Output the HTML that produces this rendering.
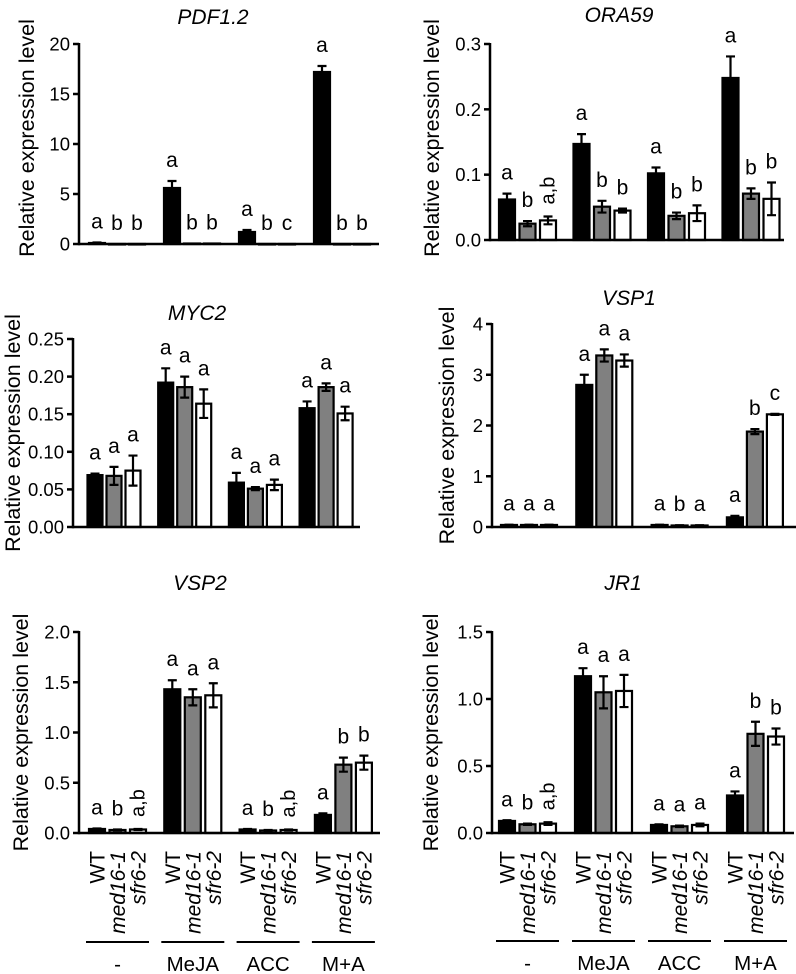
<!DOCTYPE html>
<html><head><meta charset="utf-8"><style>
html,body{margin:0;padding:0;background:#fff}
svg{display:block}
text{font-family:"Liberation Sans",Arial,sans-serif;fill:#000}
</style></head><body>
<svg id="fig" width="796" height="974" viewBox="0 0 796 974" xmlns="http://www.w3.org/2000/svg"></svg>
<script>
const groups = ["-", "MeJA", "ACC", "M+A"];
const genotypes = ["WT", "med16-1", "sfr6-2"];

const pdfValues = [[0.1,0,0],[5.6,0.05,0.05],[1.2,0,0],[17.2,0,0]];
const pdfErrors = [[0.05,0,0],[0.7,0,0],[0.2,0,0],[0.6,0,0]];
const pdfLetters = [["a","b","b"],["a","b","b"],["a","b","c"],["a","b","b"]];
const pdfTicks = [0,5,10,15,20];

const oraValues = [[0.062,0.025,0.030],[0.147,0.051,0.045],[0.102,0.037,0.041],[0.248,0.071,0.063]];
const oraErrors = [[0.009,0.004,0.006],[0.015,0.009,0.003],[0.009,0.005,0.012],[0.033,0.008,0.025]];
const oraLetters = [["a","b","a,b"],["a","b","b"],["a","b","b"],["a","b","b"]];
const oraTicks = [0,0.1,0.2,0.3];

const mycValues = [[0.069,0.068,0.075],[0.192,0.186,0.164],[0.059,0.051,0.056],[0.158,0.186,0.151]];
const mycErrors = [[0.002,0.012,0.020],[0.019,0.014,0.019],[0.013,0.002,0.007],[0.009,0.005,0.009]];
const mycLetters = [["a","a","a"],["a","a","a"],["a","a","a"],["a","a","a"]];
const mycTicks = [0,0.05,0.10,0.15,0.20,0.25];

const vsp1Values = [[0.04,0.04,0.04],[2.8,3.38,3.28],[0.04,0.03,0.03],[0.19,1.88,2.22]];
const vsp1Errors = [[0.005,0.005,0.005],[0.2,0.12,0.12],[0.005,0.005,0.005],[0.03,0.05,0.01]];
const vsp1Letters = [["a","a","a"],["a","a","a"],["a","b","a"],["a","b","c"]];
const vsp1Ticks = [0,1,2,3,4];

const vsp2Values = [[0.04,0.03,0.035],[1.43,1.35,1.37],[0.035,0.025,0.03],[0.18,0.68,0.70]];
const vsp2Errors = [[0.005,0.005,0.005],[0.09,0.08,0.12],[0.005,0.005,0.005],[0.015,0.07,0.07]];
const vsp2Letters = [["a","b","a,b"],["a","a","a"],["a","b","a,b"],["a","b","b"]];
const vsp2Ticks = [0,0.5,1.0,1.5,2.0];

const jrValues = [[0.09,0.065,0.07],[1.17,1.05,1.06],[0.06,0.05,0.06],[0.28,0.74,0.72]];
const jrErrors = [[0.005,0.005,0.01],[0.06,0.12,0.12],[0.005,0.005,0.01],[0.03,0.09,0.06]];
const jrLetters = [["a","b","a,b"],["a","a","a"],["a","a","a"],["a","b","b"]];
const jrTicks = [0,0.5,1.0,1.5];

const NS = "http://www.w3.org/2000/svg";
const svg = document.getElementById("fig");
const fills = ["#000", "#808080", "#fff"];

function mk(tag, attrs, parent, txt){
  const e = document.createElementNS(NS, tag);
  for (const k in attrs) e.setAttribute(k, attrs[k]);
  if (txt !== undefined) e.textContent = txt;
  parent.appendChild(e);
  return e;
}

function panel(o){
  const g = mk("g", {}, svg);
  
  
  const max = o.ticks[o.ticks.length-1];
  const y = v => o.y0 - (v/max)*(o.y0 - o.yTop);
  const xc = (gi, bi) => o.x1 + gi*o.gStep + bi*o.bStep;
  const t = mk("text", {x:o.titleX, y:o.titleY, "text-anchor":"middle", "font-size":21, "font-style":"italic"}, g, o.title);
  
  
  const yt = mk("text", {x:0, y:0, "text-anchor":"middle", "font-size":21.5, transform:`translate(${o.yTitleX},${(o.y0+o.yTop)/2 + (o.yTitleDy||0)}) rotate(-90)`}, g, "Relative expression level");
  
  
  o.ticks.forEach(tv => {
    const ty = y(tv);
    const tk = mk("line", {x1:o.ax-6, x2:o.ax, y1:ty, y2:ty, stroke:"#000", "stroke-width":2.5}, g);
    
    
    const lb = mk("text", {x:o.ax-9, y:ty+6.5, "text-anchor":"end", "font-size":18.5}, g, tv.toFixed(o.dec));
    
    
  });
  o.values.forEach((grp, gi) => grp.forEach((v, bi) => {
    const cx = xc(gi, bi), top = y(v), bw = o.bw;
    const r = mk("rect", {x:cx-bw/2, y:top, width:bw, height:Math.max(o.y0-top,0.5), fill:fills[bi], stroke:"#000", "stroke-width":2.2}, g);
    
    
    const e = o.errors[gi][bi];
    const eh = y(v+e), el = y(Math.max(v-e,0));
    if (o.y0 - y(v) > 2 || e > 0) {
      const ep = mk("path", {d:`M${cx},${eh}V${bi===0?top:el}M${cx-4.5},${eh}H${cx+4.5}` + (bi===0?"":`M${cx-4.5},${el}H${cx+4.5}`), stroke:"#000", "stroke-width":2.2, fill:"none"}, g);
      
      
    }
    const L = o.letters[gi][bi];
    let lt;
    if (L.length > 1) {
      lt = mk("text", {x:0, y:0, "font-size":20, transform:`translate(${cx+6.5},${eh-12}) rotate(-90)`}, g, L);
    } else {
      lt = mk("text", {x:cx, y:Math.min(eh,o.y0)-14, "text-anchor":"middle", "font-size":21}, g, L);
    }
    
    
  }));
  const ya = mk("line", {x1:o.ax, x2:o.ax, y1:o.yTop-1, y2:o.y0+1.2, stroke:"#000", "stroke-width":2.5}, g);
  
  
  const xa = mk("line", {x1:o.ax, x2:o.xEnd, y1:o.y0, y2:o.y0, stroke:"#000", "stroke-width":2.5}, g);
  
  
  if (o.bottom) {
    groups.forEach((gn, gi) => {
      genotypes.forEach((gt, bi) => {
        const cx = xc(gi, bi);
        const xl = mk("text", {x:0, y:0, "text-anchor":"end", "font-size":21, "font-style":bi===0?"normal":"italic", transform:`translate(${cx+7.5},${o.y0+18}) rotate(-90)`}, g, gt);
        
        
      });
      const a = xc(gi,0)-11, b = xc(gi,2)+11;
      const ln = mk("line", {x1:a, x2:b, y1:o.lineY, y2:o.lineY, stroke:"#000", "stroke-width":2}, g);
      
      
      const gl = mk("text", {x:(a+b)/2, y:o.lineY+29, "text-anchor":"middle", "font-size":20.5}, g, gn);
      
      
    });
  }
}

panel({id:"pdf12", title:"PDF1.2", titleX:213, titleY:24, yTitleX:34, yTitleDy:-6, ax:79, y0:244, yTop:44, xEnd:379,
  x1:97, gStep:75, bStep:20, bw:16, dec:0, ticks:pdfTicks, values:pdfValues, errors:pdfErrors, letters:pdfLetters});
panel({id:"ora59", title:"ORA59", titleX:619, titleY:22, yTitleX:439, yTitleDy:-4, ax:490, y0:240, yTop:44, xEnd:784,
  x1:507, gStep:74.5, bStep:20.5, bw:16, dec:1, ticks:oraTicks, values:oraValues, errors:oraErrors, letters:oraLetters});
panel({id:"myc2", title:"MYC2", titleX:197, titleY:320, yTitleX:20, ax:73, y0:527, yTop:339, xEnd:360,
  x1:95, gStep:70.7, bStep:19, bw:15, dec:2, ticks:mycTicks, values:mycValues, errors:mycErrors, letters:mycLetters});
panel({id:"vsp1", title:"VSP1", titleX:629, titleY:305, yTitleX:454, ax:492, y0:527, yTop:324, xEnd:796,
  x1:509, gStep:75.3, bStep:20, bw:16, dec:0, ticks:vsp1Ticks, values:vsp1Values, errors:vsp1Errors, letters:vsp1Letters});
panel({id:"vsp2", title:"VSP2", titleX:200, titleY:590, yTitleX:28, ax:79, y0:833, yTop:632, xEnd:380,
  x1:97, gStep:75.3, bStep:20.5, bw:16, dec:1, ticks:vsp2Ticks, values:vsp2Values, errors:vsp2Errors, letters:vsp2Letters, bottom:true, lineY:942});
panel({id:"jr1", title:"JR1", titleX:623, titleY:590, yTitleX:438, ax:492, y0:833, yTop:632, xEnd:794,
  x1:507, gStep:76, bStep:20.5, bw:16, dec:1, ticks:jrTicks, values:jrValues, errors:jrErrors, letters:jrLetters, bottom:true, lineY:941});
</script>
</body></html>
